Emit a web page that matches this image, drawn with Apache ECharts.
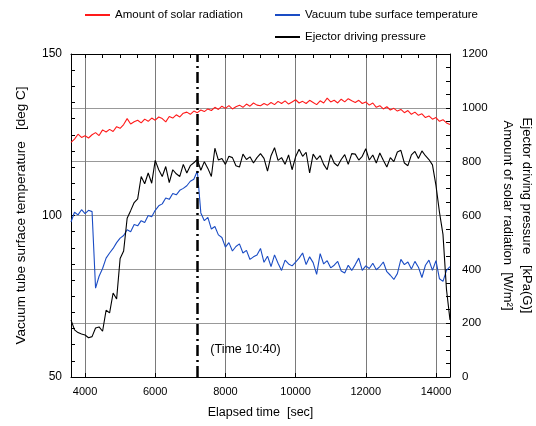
<!DOCTYPE html>
<html><head><meta charset="utf-8">
<script src="https://cdn.jsdelivr.net/npm/echarts@6/dist/echarts.min.js"></script>
<style>html,body{margin:0;padding:0;background:#fff}#c{width:536px;height:426px}</style>
</head><body><div id="c"></div>
<script>
// sampling grid of the recorded series (seconds)
const startTime = 3600;
const timeStep = 100;

// Amount of solar radiation [W/m2] (right axis)
const solarRadiation = [
  872, 884, 902, 890, 896, 888, 900, 908, 897, 918,
  910, 920, 912, 930, 924, 938, 960, 940, 948, 954,
  944, 958, 950, 962, 954, 966, 960, 948, 968, 962,
  974, 966, 980, 984, 976, 988, 982, 992, 986, 996,
  990, 1002, 994, 1006, 998, 1008, 996, 1004, 1010, 1002,
  1014, 1006, 1018, 1010, 1008, 1016, 1010, 1020, 1012, 1024,
  1016, 1026, 1014, 1022, 1030, 1018, 1024, 1016, 1028, 1020,
  1012, 1026, 1018, 1036, 1022, 1028, 1018, 1032, 1022, 1034,
  1026, 1020, 1028, 1016, 1022, 1010, 1018, 1002, 1008, 996,
  1004, 992, 998, 988, 994, 982, 990, 976, 984, 972,
  978, 964, 970, 958, 964, 950, 956, 944, 938
];

// Vacuum tube surface temperature [deg C] (left axis)
const tubeTemperature = [
  98.0, 101.0, 100.2, 101.8, 100.6, 101.6, 101.2, 77.5, 81.2, 83.6,
  86.8, 88.4, 89.8, 91.6, 93.0, 93.8, 95.6, 95.0, 97.2, 96.8,
  98.4, 97.8, 100.0, 99.6, 101.6, 103.0, 103.6, 105.4, 105.0, 106.8,
  106.4, 107.8, 108.4, 109.2, 110.6, 111.2, 113.8, 100.8, 98.4, 99.4,
  95.8, 96.6, 94.0, 93.2, 90.2, 91.6, 89.0, 90.4, 91.2, 88.4,
  89.2, 86.4, 87.2, 87.8, 89.8, 85.5, 87.4, 84.2, 87.8, 85.2,
  83.0, 86.2, 85.0, 84.4, 85.6, 86.8, 88.4, 84.8, 87.2, 85.4,
  81.8, 88.2, 85.0, 86.0, 83.8, 84.6, 85.8, 82.8, 82.2, 84.6,
  83.0, 84.8, 86.8, 83.0, 84.4, 83.6, 85.2, 83.2, 84.2, 85.6,
  82.6, 81.5, 80.2, 82.0, 86.4, 84.8, 85.6, 83.4, 85.8, 84.0,
  80.8, 84.6, 86.2, 83.0, 86.0, 80.4, 79.6, 83.0, 84.2
];

// Ejector driving pressure [kPa(G)] (right axis)
const ejectorPressure = [
  212, 175, 165, 160, 156, 146, 150, 182, 186, 170,
  248, 238, 312, 290, 440, 468, 590, 618, 648, 662,
  745, 718, 758, 720, 805, 770, 745, 782, 722, 770,
  755, 745, 790, 758, 785, 796, 808, 768, 800, 775,
  745, 850, 806, 812, 790, 820, 815, 785, 780, 828,
  808, 818, 795, 815, 830, 812, 765, 822, 852, 805,
  815, 790, 825, 770, 818, 846, 820, 835, 758, 828,
  808, 822, 790, 770, 826, 795, 784, 808, 826, 790,
  830, 828, 806, 820, 848, 806, 825, 795, 832, 805,
  780, 815, 800, 836, 842, 795, 785, 825, 838, 812,
  840, 822, 808, 788, 712, 612, 530, 325, 212
];

const seriesNames = ['Amount of solar radiation', 'Vacuum tube surface temperature', 'Ejector driving pressure'];
const xTickLabels = [4000, 6000, 8000, 10000, 12000, 14000];
const xMinorStep = 500;
const leftMinorStep = 5;
const rightMinorStep = 50;
const markTime = 7200;
const markText = '(Time 10:40)';

function pairs(vals) { return vals.map((v, i) => [startTime + i * timeStep, v]); }
const topTicks = [];
for (let t = xTickLabels[0]; t <= xTickLabels[xTickLabels.length - 1]; t += xMinorStep) topTicks.push(t);
const plain = v => String(v);

const FONT = '"Liberation Sans", Arial, sans-serif';
const chart = echarts.init(document.getElementById('c'), null, { renderer: 'canvas' });
const legendBase = {
  padding: 0, icon: 'rect', itemWidth: 25, itemHeight: 2, selectedMode: false,
  textStyle: { fontSize: 11.5, color: '#000', fontFamily: FONT }
};
const tickOnly = (pos, min, max, step) => ({
  type: 'value', min: min, max: max, interval: step, position: pos,
  axisLine: { show: false, onZero: false },
  axisTick: { show: true, inside: true, length: 4, lineStyle: { color: '#000', width: 1 } },
  axisLabel: { show: false }, splitLine: { show: false }
});
const option = {
  animation: false,
  backgroundColor: '#fff',
  textStyle: { fontFamily: FONT },
  grid: { left: 71, right: 86, top: 54, bottom: 49, containLabel: false, outerBoundsMode: 'none' },
  legend: [
    Object.assign({ data: [seriesNames[0]], left: 85, top: 9 }, legendBase),
    Object.assign({ data: [seriesNames[1]], left: 275, top: 9 }, legendBase),
    Object.assign({ data: [seriesNames[2]], left: 275, top: 31 }, legendBase)
  ],
  xAxis: [
    {
      type: 'value', min: 3600, max: 14400, position: 'bottom',
      axisLine: { onZero: false, lineStyle: { color: '#000', width: 1 } },
      axisTick: { show: true, inside: true, length: 4, customValues: xTickLabels, lineStyle: { color: '#000' } },
      axisLabel: { customValues: xTickLabels, formatter: plain, fontSize: 11, color: '#000', margin: 9, fontFamily: FONT },
      splitLine: { show: true, lineStyle: { color: '#7a7a7a', width: 1 } },
      name: 'Elapsed time  [sec]', nameLocation: 'middle', nameGap: 29,
      nameTextStyle: { fontSize: 12.5, color: '#000', fontFamily: FONT }
    },
    {
      type: 'value', min: 3600, max: 14400, position: 'top',
      axisLine: { onZero: false, lineStyle: { color: '#000', width: 1 } },
      axisTick: { show: true, inside: true, length: 4, customValues: topTicks, lineStyle: { color: '#000' } },
      axisLabel: { show: false }, splitLine: { show: false }
    }
  ],
  yAxis: [
    {
      type: 'value', min: 50, max: 150, interval: 50, position: 'left',
      axisLine: { show: true, onZero: false, lineStyle: { color: '#000', width: 1 } },
      axisTick: { show: false },
      axisLabel: { formatter: plain, fontSize: 12, color: '#000', margin: 9, fontFamily: FONT },
      splitLine: { show: false },
      name: 'Vacuum tube surface temperature   [deg C]', nameLocation: 'middle', nameRotate: 90, nameGap: 43,
      nameTextStyle: { fontSize: 13.5, color: '#000', fontFamily: FONT }
    },
    {
      type: 'value', min: 0, max: 1200, interval: 200, position: 'right',
      axisLine: { show: true, onZero: false, lineStyle: { color: '#000', width: 1 } },
      axisTick: { show: false },
      axisLabel: { formatter: plain, fontSize: 11.5, color: '#000', margin: 12, fontFamily: FONT },
      splitLine: { show: true, lineStyle: { color: '#999', width: 1 } },
      name: 'Ejector driving pressure   [kPa(G)]\nAmount of solar radiation  [W/m²]',
      nameLocation: 'middle', nameRotate: -90, nameGap: 44,
      nameTextStyle: { fontSize: 13, lineHeight: 19, color: '#000', fontFamily: FONT }
    },
    tickOnly('left', 50, 150, leftMinorStep),
    tickOnly('right', 0, 1200, rightMinorStep)
  ],
  series: [
    {
      name: seriesNames[0], type: 'line', xAxisIndex: 0, yAxisIndex: 1, data: pairs(solarRadiation),
      symbol: 'none', lineStyle: { color: '#ff1a1a', width: 1.1 }, itemStyle: { color: '#ff1a1a' }, z: 3
    },
    {
      name: seriesNames[1], type: 'line', xAxisIndex: 0, yAxisIndex: 0, data: pairs(tubeTemperature),
      symbol: 'none', lineStyle: { color: '#1a4cc4', width: 1.1 }, itemStyle: { color: '#1a4cc4' }, z: 3
    },
    {
      name: seriesNames[2], type: 'line', xAxisIndex: 0, yAxisIndex: 1, data: pairs(ejectorPressure),
      symbol: 'none', lineStyle: { color: '#000', width: 1.1 }, itemStyle: { color: '#000' }, z: 4,
      markLine: {
        silent: true, symbol: ['none', 'none'], label: { show: false },
        lineStyle: { color: '#000', width: 2.5, type: [11, 4, 2, 4] },
        data: [{ xAxis: markTime }]
      }
    }
  ]
};
chart.setOption(option);
const px = chart.convertToPixel({ xAxisIndex: 0 }, markTime);
const py = chart.convertToPixel({ yAxisIndex: 0 }, 58);
chart.setOption({
  graphic: [{
    type: 'text', left: px + 13, top: py - 8, silent: true,
    style: { text: markText, fontSize: 12.5, fill: '#000', fontFamily: FONT }
  }]
});
</script></body></html>
